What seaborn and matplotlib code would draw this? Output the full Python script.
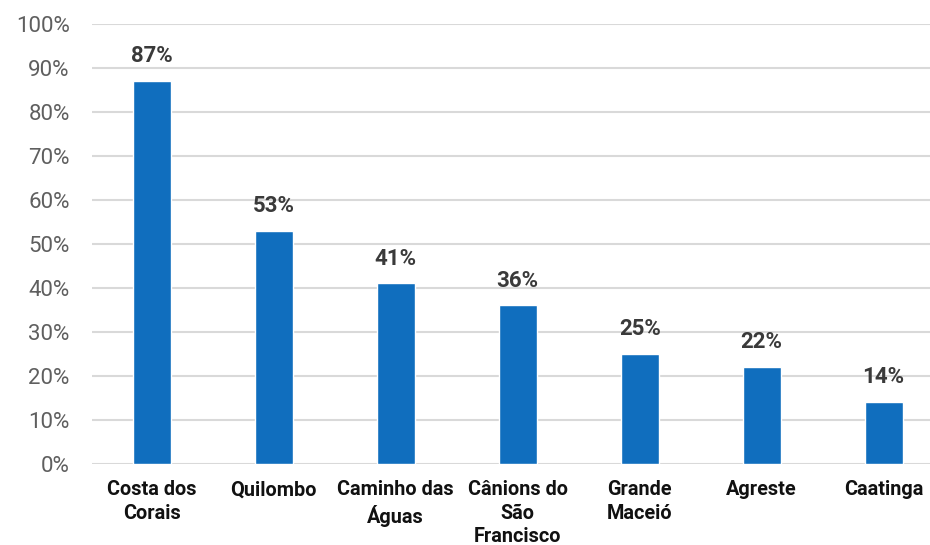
import matplotlib
matplotlib.use("Agg")
import matplotlib.pyplot as plt
import seaborn as sns
import pandas as pd
from matplotlib.ticker import FuncFormatter

regions = ["Costa dos\nCorais", "Quilombo", "Caminho das\nÁguas", "Cânions do\nSão\nFrancisco",
           "Grande\nMaceió", "Agreste", "Caatinga"]
values = [87, 53, 41, 36, 25, 22, 14]
y_ticks = list(range(0, 101, 10))

sns.set_theme(style="white")
plt.rcParams['font.family'] = ['Roboto', 'DejaVu Sans']

df = pd.DataFrame({"region": regions, "value": values})

fig = plt.figure(figsize=(9.3, 5.45), dpi=100)
ax = fig.add_axes([0.099, 0.149, 0.901, 0.807])

sns.barplot(data=df, x="region", y="value", color="#106EBE", width=0.31, ax=ax,
            saturation=1, zorder=3)

ax.set_ylim(0, 100)
ax.set_xlim(-0.49, 6.38)
ax.set_yticks(y_ticks)
ax.yaxis.set_major_formatter(FuncFormatter(lambda v, p: f"{int(v)}%"))
ax.grid(axis="y", color="#d9d9d9", linewidth=1.5, zorder=0)
ax.set_axisbelow(True)
for s in ax.spines.values():
    s.set_visible(False)
ax.set_xlabel("")
ax.set_ylabel("")
ax.tick_params(axis="y", labelsize=16, labelcolor="#5f5f5f", length=0, pad=16)
ax.tick_params(axis="x", labelsize=14.3, labelcolor="#111111", length=0, pad=12)
for lbl in ax.get_xticklabels():
    lbl.set_fontweight("bold")
    lbl.set_linespacing(1.3)
    lbl.set_verticalalignment("top")

for i, v in enumerate(values):
    ax.annotate(f"{v}%", (i, v), xytext=(0, 10), textcoords="offset points",
                ha="center", va="bottom", fontsize=16, fontweight="bold", color="#3a3a3a")

fig.savefig("out.png", dpi=100, facecolor="white")
